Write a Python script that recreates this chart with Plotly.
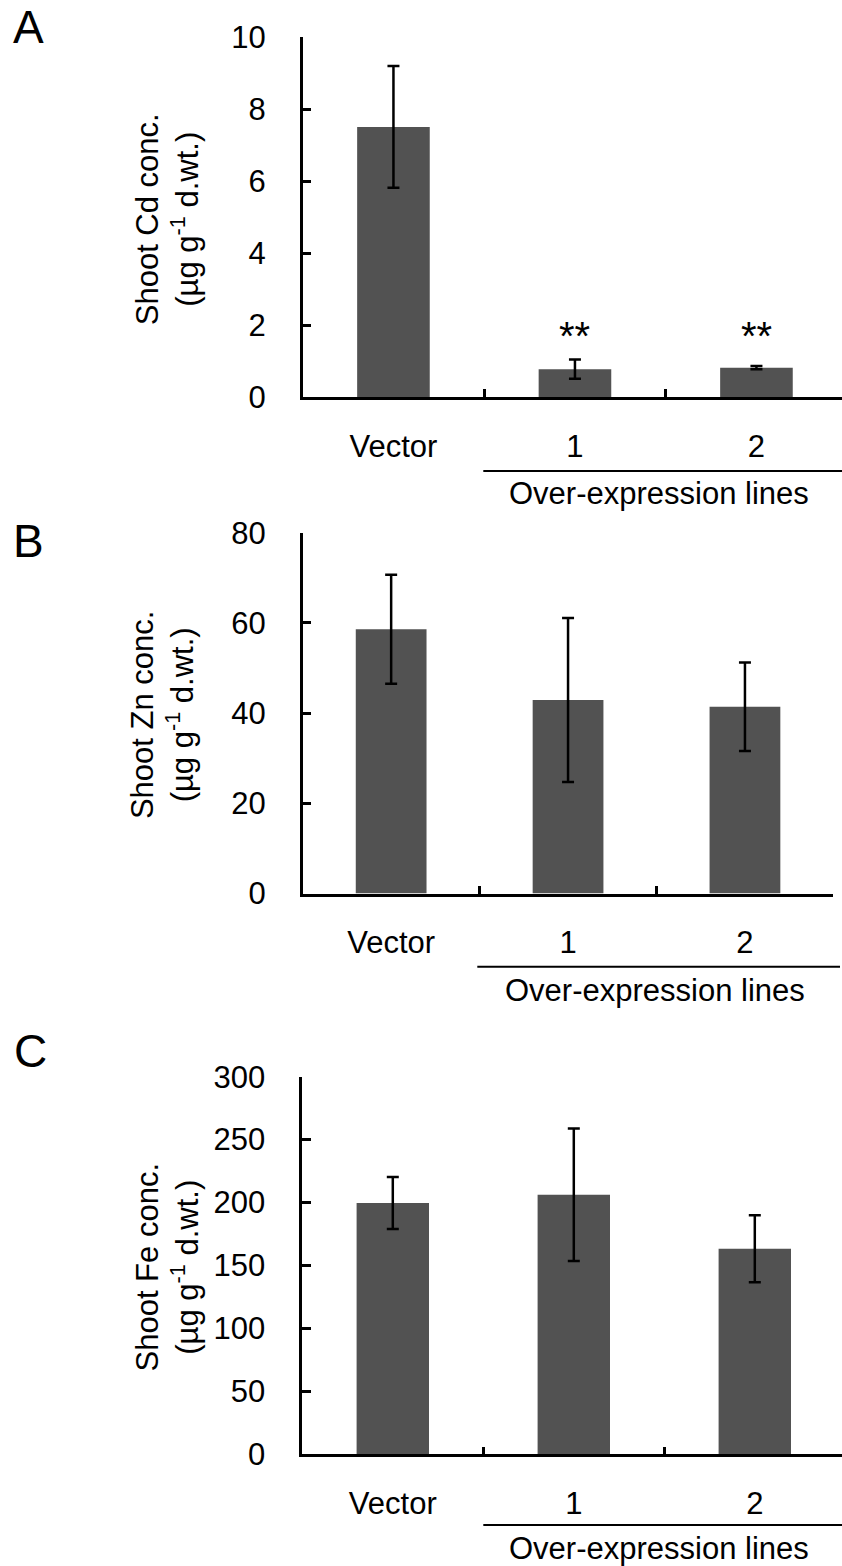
import plotly.graph_objects as go

W, H = 842, 1566

categories = ["Vector", "1", "2"]

cd_mean = [7.51, 0.78, 0.82]
cd_err = [1.69, 0.27, 0.045]
cd_sig = ["", "**", "**"]

zn_mean = [58.6, 42.9, 41.4]
zn_err = [12.1, 18.2, 9.8]

fe_mean = [199.6, 206.2, 163.3]
fe_err = [20.7, 52.6, 26.7]

group_label = "Over-expression lines"
ytitles = [
    "Shoot Cd conc.<br>(µg g<sup>-1</sup> d.wt.)",
    "Shoot Zn conc.<br>(µg g<sup>-1</sup> d.wt.)",
    "Shoot Fe conc.<br>(µg g<sup>-1</sup> d.wt.)",
]
panel_letters = ["A", "B", "C"]
yranges = [(0, 10), (0, 80), (0, 300)]
ydticks = [2, 20, 50]

FONT = "Arial, Liberation Sans, sans-serif"
FS = 31
BAR = "#525252"

# pixel layout of each panel: (axis x left, axis x right, y top, y bottom, category width)
panels = [
    dict(xl=302.7, xr=842, yt=37.3, yb=397.2, cw=181.5),
    dict(xl=302.7, xr=833.3, yt=532.7, yb=893.5, cw=176.9),
    dict(xl=302.3, xr=842, yt=1076.7, yb=1454.3, cw=181.0),
]


def px(x):
    return x / W


def py(y):
    return 1 - y / H


fig = go.Figure()
series = [(cd_mean, cd_err), (zn_mean, zn_err), (fe_mean, fe_err)]

for i, ((m, e), p) in enumerate(zip(series, panels)):
    sfx = "" if i == 0 else str(i + 1)
    fig.add_trace(go.Bar(
        x=categories, y=m,
        error_y=dict(type="data", array=e, color="black", thickness=2.5, width=6),
        marker=dict(color=BAR, line=dict(width=0)),
        width=0.4,
        xaxis="x" + sfx, yaxis="y" + sfx,
        showlegend=False,
        hoverinfo="skip",
    ))
    xmax = -0.5 + (p["xr"] - p["xl"]) / p["cw"]
    fig.update_layout(**{
        "xaxis" + sfx: dict(
            domain=[px(p["xl"]), px(p["xr"])],
            anchor="y" + sfx,
            type="category",
            categoryorder="array", categoryarray=categories,
            range=[-0.5, xmax],
            tickson="boundaries",
            ticks="inside", ticklen=8, tickwidth=2.5, tickcolor="black",
            showline=True, linecolor="black", linewidth=2.5,
            showgrid=False, zeroline=False,
            tickfont=dict(family=FONT, size=FS, color="black"),
            ticklabelstandoff=20,
            automargin=False,
            fixedrange=True,
        ),
        "yaxis" + sfx: dict(
            domain=[py(p["yb"]), py(p["yt"])],
            anchor="x" + sfx,
            range=list(yranges[i]),
            dtick=ydticks[i], tick0=0,
            ticks="inside", ticklen=9, tickwidth=2.5, tickcolor="black",
            showline=True, linecolor="black", linewidth=2.5,
            showgrid=False, zeroline=False,
            tickfont=dict(family=FONT, size=FS, color="black"),
            ticklabelstandoff=28,
            automargin=False,
            fixedrange=True,
        ),
    })

annotations = []
shapes = []

# panel letters
letter_pos = [(28, 27), (29, 541), (30, 1051)]
for L, (lx, ly) in zip(panel_letters, letter_pos):
    annotations.append(dict(text=L, x=px(lx), y=py(ly), xref="paper", yref="paper",
                            showarrow=False, xanchor="center", yanchor="middle",
                            font=dict(family=FONT, size=46, color="black")))

# y titles
title_x = [167, 162, 167]
for t, tx, p in zip(ytitles, title_x, panels):
    annotations.append(dict(text=t, x=px(tx), y=py((p["yt"] + p["yb"]) / 2 + 2),
                            xref="paper", yref="paper", textangle=-90,
                            showarrow=False, xanchor="center", yanchor="middle",
                            font=dict(family=FONT, size=FS, color="black")))

# group line + label
group = [
    dict(x0=483.3, x1=842, ly=471, tx=659, ty=494),
    dict(x0=477.3, x1=840, ly=966.7, tx=655, ty=990),
    dict(x0=483.3, x1=842, ly=1525, tx=659, ty=1548),
]
for g in group:
    shapes.append(dict(type="line", xref="paper", yref="paper",
                       x0=px(g["x0"]), x1=px(g["x1"]), y0=py(g["ly"]), y1=py(g["ly"]),
                       line=dict(color="black", width=2)))
    annotations.append(dict(text=group_label, x=px(g["tx"]), y=py(g["ty"]),
                            xref="paper", yref="paper", showarrow=False,
                            xanchor="center", yanchor="middle",
                            font=dict(family=FONT, size=FS, color="black")))

# significance marks (panel A)
for c, s in zip(categories, cd_sig):
    if s:
        annotations.append(dict(text=s, x=c, y=1.7, xref="x", yref="y",
                                showarrow=False, xanchor="center", yanchor="middle",
                                font=dict(family=FONT, size=40, color="black")))

fig.update_layout(
    template="none",
    width=W, height=H,
    margin=dict(l=0, r=0, t=0, b=0, pad=0),
    paper_bgcolor="white", plot_bgcolor="white",
    annotations=annotations, shapes=shapes,
    showlegend=False,
)

fig.write_html("out.html")
